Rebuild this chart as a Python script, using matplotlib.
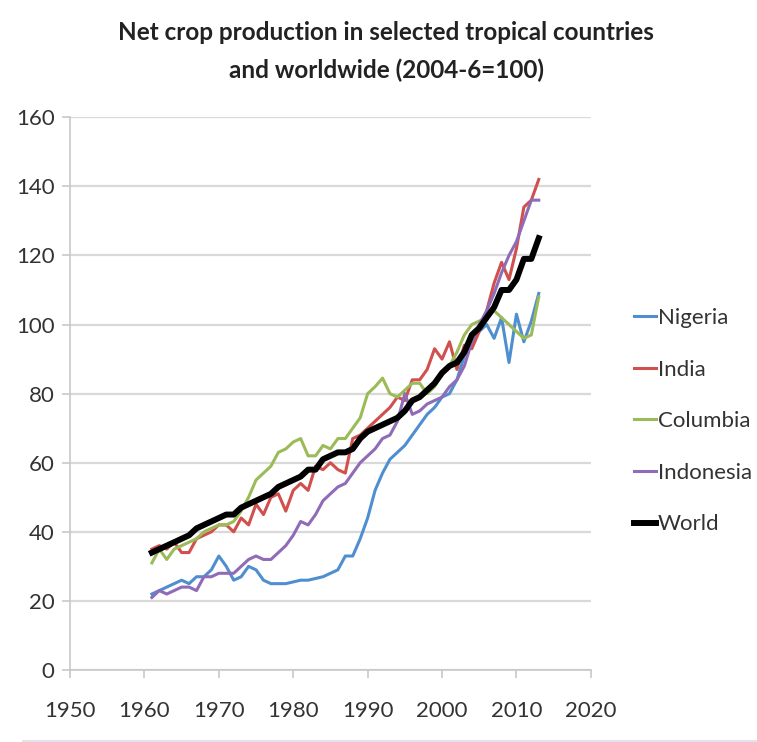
import matplotlib
matplotlib.use("Agg")
import matplotlib.pyplot as plt
from matplotlib.lines import Line2D

plt.rcParams['font.family'] = ['Lato', 'DejaVu Sans']

# data (index, 2004-6 = 100)
years = list(range(1961, 2014))

nigeria = [22, 23, 24, 25, 26, 25, 27, 27, 29, 33, 30, 26, 27, 30, 29, 26,
           25, 25, 25, 25.5, 26, 26, 26.5, 27, 28, 29, 33, 33, 38, 44,
           52, 57, 61, 63, 65, 68, 71, 74, 76, 79, 80, 84, 91, 95, 98, 100,
           96, 102, 89, 103, 95, 101, 109]

india = [35, 36, 35, 37, 34, 34, 38, 39, 40, 42, 42, 40, 44, 42, 48, 45,
         50, 51, 46, 52, 54, 52, 59, 58, 60, 58, 57, 67, 68, 70, 72, 74,
         76, 79, 78, 84, 84, 87, 93, 90, 95, 87, 94, 93, 98, 104, 112, 118,
         113, 122, 134, 136, 142]

columbia = [31, 35, 32, 35, 36, 37, 38, 40, 41, 42, 42, 43, 46, 50, 55, 57,
            59, 63, 64, 66, 67, 62, 62, 65, 64, 67, 67, 70, 73, 80, 82, 84.5,
            80, 79, 81, 83, 83, 80, 82, 86, 88, 92, 97, 100, 101, 102, 104,
            102, 100, 98, 96, 97, 108]

indonesia = [21, 23, 22, 23, 24, 24, 23, 27, 27, 28, 28, 28, 30, 32, 33, 32,
             32, 34, 36, 39, 43, 42, 45, 49, 51, 53, 54, 57, 60, 62, 64, 67,
             68, 72, 80, 74, 75, 77, 78, 79, 82, 84, 88, 95, 100, 104, 109,
             115, 120, 124, 130, 136, 136]

world = [34, 35, 36, 37, 38, 39, 41, 42, 43, 44, 45, 45, 47, 48, 49, 50,
         51, 53, 54, 55, 56, 58, 58, 61, 62, 63, 63, 64, 67, 69, 70, 71,
         72, 73, 75, 78, 79, 81, 83, 86, 88, 89, 92, 97, 99, 102, 105, 110,
         110, 113, 119, 119, 125]

series = [
    ("Nigeria", nigeria, "#4F8FD0", 2.2),
    ("India", india, "#D0504D", 2.2),
    ("Columbia", columbia, "#9BBB59", 2.2),
    ("Indonesia", indonesia, "#8F6BB8", 2.2),
    ("World", world, "#000000", 4.3),
]

fig = plt.figure(figsize=(7.57, 7.42), dpi=100)
ax = fig.add_axes([0.0925, 0.097, 0.688, 0.745])

for name, vals, col, lw in series:
    ax.plot(years, vals, color=col, lw=lw, label=name, solid_joinstyle='round')

ax.set_xlim(1950, 2020)
ax.set_ylim(0, 160)
ax.set_xticks(range(1950, 2021, 10))
ax.set_yticks(range(0, 161, 20))
ax.yaxis.grid(True, color='#d9d9d9', lw=1.6)
ax.set_axisbelow(True)

for s in ['top', 'right']:
    ax.spines[s].set_visible(False)
for s in ['left', 'bottom']:
    ax.spines[s].set_color('#c8c8c8')
    ax.spines[s].set_linewidth(1.2)
ax.tick_params(axis='both', colors='#c8c8c8', length=6, width=1.2,
               labelsize=16, labelcolor='#333333', pad=5)
ax.tick_params(axis='x', pad=16)

fig.text(0.51, 0.931, "Net crop production in selected tropical countries\nand worldwide (2004-6=100)",
         ha='center', va='center', fontsize=17.5, fontweight='bold',
         color='#222222', linespacing=1.75)

leg = ax.legend(loc='center left', bbox_to_anchor=(1.065, 0.45), frameon=False,
                fontsize=16, handlelength=1.0, handletextpad=0.1,
                labelspacing=1.42, borderaxespad=0)
for t in leg.get_texts():
    t.set_color('#333333')

fig.add_artist(Line2D([0.03, 1.0], [0.002, 0.002], color='#e3e3f0', lw=1.5))

fig.savefig("out.png", dpi=100)
